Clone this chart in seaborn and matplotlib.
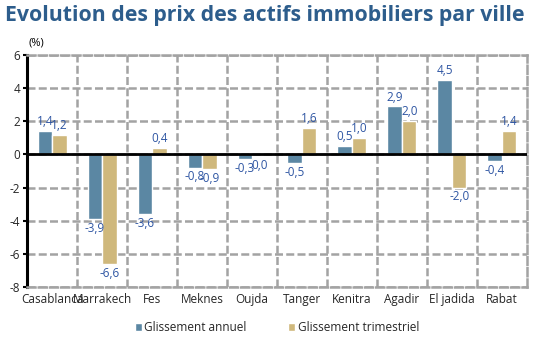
import matplotlib
matplotlib.use("Agg")
import matplotlib.pyplot as plt
import seaborn as sns
import pandas as pd
import numpy as np
from matplotlib.ticker import FixedLocator

cities = ["Casablanca", "Marrakech", "Fes", "Meknes", "Oujda", "Tanger",
          "Kenitra", "Agadir", "El jadida", "Rabat"]
annuel = [1.4, -3.9, -3.6, -0.8, -0.3, -0.5, 0.5, 2.9, 4.5, -0.4]
trimestriel = [1.2, -6.6, 0.4, -0.9, 0.0, 1.6, 1.0, 2.0, -2.0, 1.4]
series = ["Glissement annuel", "Glissement trimestriel"]
yticks = [-8, -6, -4, -2, 0, 2, 4, 6]
colors = ["#5b87a3", "#cfb87c"]

df = pd.DataFrame({
    "ville": cities * 2,
    "valeur": annuel + trimestriel,
    "serie": [series[0]] * len(cities) + [series[1]] * len(cities),
})

sns.set_style("white")
plt.rcParams["font.family"] = ["Open Sans", "DejaVu Sans"]

fig = plt.figure(figsize=(5.41, 3.39), dpi=100)
ax = fig.add_axes([0.050, 0.153, 0.924, 0.685])

sns.barplot(data=df, x="ville", y="valeur", hue="serie", palette=colors,
            width=0.58, ax=ax, legend=True, saturation=1)

ax.set_yticks(yticks)
ax.set_yticklabels([str(t) for t in yticks])
ax.set_ylim(-8, 6)
ax.set_xlim(-0.5, len(cities) - 0.5)
ax.xaxis.set_minor_locator(FixedLocator(np.arange(0.5, len(cities) - 0.5, 1)))

gridkw = dict(color="#a3a3a3", linewidth=1.8, linestyle=(0, (3.2, 1.3)))
ax.grid(axis="y", which="major", **gridkw)
ax.grid(axis="x", which="minor", **gridkw)
ax.grid(axis="x", which="major", visible=False)
ax.set_axisbelow(True)

for s in ["top", "right", "bottom"]:
    ax.spines[s].set_color("#a3a3a3")
    ax.spines[s].set_linewidth(1.8)
    ax.spines[s].set_linestyle((0, (3.2, 1.3)))
ax.spines["left"].set_color("black")
ax.spines["left"].set_linewidth(2.2)
ax.axhline(0, color="black", linewidth=2, zorder=3)

ax.set_xlabel("")
ax.set_ylabel("")
ax.tick_params(axis="y", which="major", length=3, width=1.5, labelsize=8.5,
               pad=2, left=True, color="black")
ax.tick_params(axis="x", which="both", length=0, labelsize=8.5, pad=4)

label_color = "#2f56a3"
for cont, vals in zip(ax.containers, [annuel, trimestriel]):
    for patch, v in zip(cont.patches, vals):
        x = patch.get_x() + patch.get_width() / 2
        txt = f"{v:.1f}".replace(".", ",")
        if v > 0:
            ax.annotate(txt, (x, v), xytext=(0, 2), textcoords="offset points",
                        ha="center", va="bottom", fontsize=8.5, color=label_color)
        else:
            ax.annotate(txt, (x, min(v, -0.1)), xytext=(0, -2), textcoords="offset points",
                        ha="center", va="top", fontsize=8.5, color=label_color)

leg = ax.legend(loc="upper center", bbox_to_anchor=(0.5, -0.1), ncol=2,
                frameon=False, fontsize=8.5, handlelength=0.6, handleheight=0.6,
                handletextpad=0.2, columnspacing=3.5)

fig.text(0.01, 0.955, "Evolution des prix des actifs immobiliers par ville",
         fontsize=15.3, fontweight="bold", color="#2d5d8c", ha="left", va="center")
fig.text(0.068, 0.873, "(%)", fontsize=8, color="black", ha="center", va="center")

fig.savefig("out.png", dpi=100)
